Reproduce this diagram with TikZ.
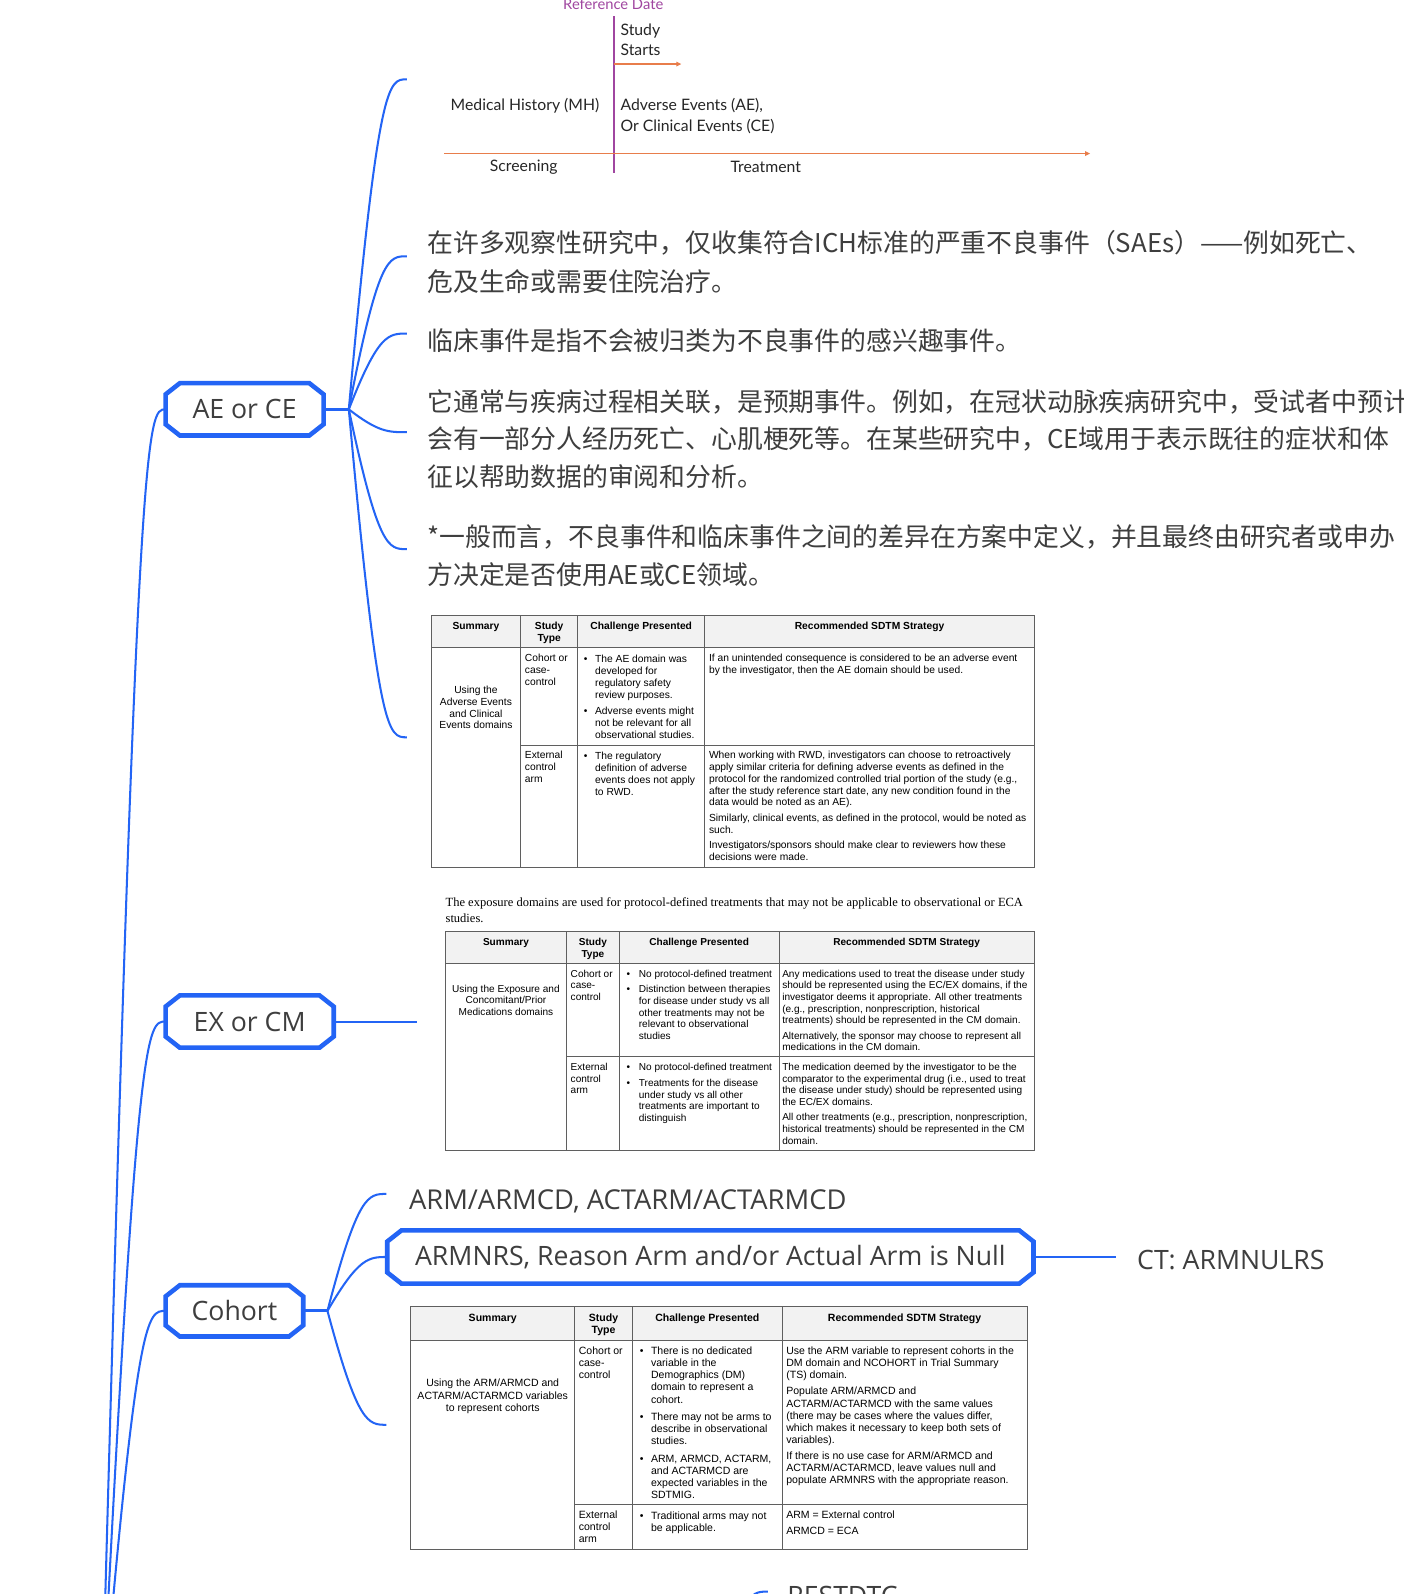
\documentclass[tikz,border=0pt]{standalone}
\usepackage{fontspec}
\setmainfont{Liberation Sans}
\newfontfamily\mmf{Open Sans}
\newfontfamily\cjk{Noto Sans CJK SC}
\newfontfamily\tlf{Lato}
\newfontfamily\tsf{Liberation Serif}
\usetikzlibrary{calc,arrows.meta}
\definecolor{mmblue}{RGB}{35,100,245}
\definecolor{txt}{RGB}{62,62,62}
\definecolor{refpurple}{RGB}{160,70,160}
\definecolor{tlorange}{RGB}{232,125,75}
\definecolor{tabline}{RGB}{95,95,95}
\definecolor{hdrfill}{RGB}{242,242,242}
\newlength\bulw
\setlength\bulw{11pt}
\newcommand\bu{\makebox[\bulw][l]{\textbullet}}
\newcommand\bi{\hspace*{\bulw}}
\newcommand\fl{\rule{0pt}{8pt}}
\newcommand\tfa{\fontsize{10.1}{11.7}\selectfont}
\newcommand\tfb{\fontsize{9.9}{11.5}\selectfont}
\newcommand\tfc{\fontsize{10.35}{12}\selectfont}
\newcommand\octbox[1]{%
 \draw[octo] ($(#1.north west)+(14,0)$) -- ($(#1.north east)+(-14,0)$) -- ($(#1.north east)+(0,11)$) -- ($(#1.south east)+(0,-11)$) -- ($(#1.south east)+(-14,0)$) -- ($(#1.south west)+(14,0)$) -- ($(#1.south west)+(0,-11)$) -- ($(#1.north west)+(0,11)$) -- cycle;}
\newcommand\brch[2]{\draw[br] (#1) .. controls ($(#2)+(-28,0)$) and ($(#2)+(-18,0)$) .. (#2);}
\tikzset{
 br/.style={draw=mmblue, line width=2pt},
 octo/.style={draw=mmblue, line width=4.5pt},
 mmn/.style={inner sep=0pt, font=\mmf\fontsize{26.2}{30}\selectfont, text=txt},
 mmt/.style={mmn, anchor=west},
 cn/.style={inner sep=0pt, anchor=west, font=\cjk\fontsize{25.4}{37}\selectfont, text=txt},
 tt/.style={inner sep=0pt, anchor=west, align=left, font=\tlf\fontsize{15.5}{20}\selectfont, text=black!85},
 tab/.style={draw=tabline, line width=1pt},
 c1/.style={inner sep=0pt, anchor=north west, align=left, font=\tfa},
 c1c/.style={inner sep=0pt, anchor=north, align=center, font=\tfa},
 h1/.style={inner sep=0pt, anchor=north, align=center, font=\tfa\bfseries},
 c2/.style={inner sep=0pt, anchor=north west, align=left, font=\tfb},
 c2c/.style={inner sep=0pt, anchor=north, align=center, font=\tfb},
 h2/.style={inner sep=0pt, anchor=north, align=center, font=\tfb\bfseries},
 c3/.style={inner sep=0pt, anchor=north west, align=left, font=\tfc},
 c3c/.style={inner sep=0pt, anchor=north, align=center, font=\tfc},
 h3/.style={inner sep=0pt, anchor=north, align=center, font=\tfc\bfseries},
 oarr/.style={draw=tlorange, line width=1.3pt, -{Triangle[length=5pt,width=4.5pt]}},
}
\begin{document}
\begin{tikzpicture}[x=1pt,y=-1pt]
\useasboundingbox (0,0) rectangle (1380.5,1567.4);
\fill[white] (0,0) rectangle (1380.5,1567.4);
\clip (0,0) rectangle (1380.5,1567.4);

% ---------------- timeline
\node[inner sep=0pt, font=\tlf\fontsize{14.5}{18}\selectfont, text=refpurple] (refd) at (603,4) {Reference Date};
\coordinate (vt) at (604,16); \coordinate (vb) at (604,170);
\draw[refpurple, line width=1.5pt] (vt) -- (vb);
\node[tt] (ss) at (610,39) {Study\\Starts};
\coordinate (sa1) at (604,63); \coordinate (sa2) at (670,63);
\draw[oarr] (sa1) -- (sa2);
\node[tt] (mh) at (443,104) {Medical History (MH)};
\node[tt] (aece) at (610,114) {Adverse Events (AE),\\Or Clinical Events (CE)};
\coordinate (ax1) at (437,151); \coordinate (ax2) at (1072,151);
\draw[oarr] (ax1) -- (ax2);
\node[tt, anchor=center] (scr) at (515,164) {Screening};
\node[tt, anchor=center] (trt) at (753,164) {Treatment};

% ---------------- chinese texts
\node[cn] (c1a) at (420,239) {在许多观察性研究中，仅收集符合ICH标准的严重不良事件（SAEs）——例如死亡、};
\node[cn] (c1b) at (420,277) {危及生命或需要住院治疗。};
\node[cn] (c2a) at (420,335) {临床事件是指不会被归类为不良事件的感兴趣事件。};
\node[cn] (c3a) at (420,395) {它通常与疾病过程相关联，是预期事件。例如，在冠状动脉疾病研究中，受试者中预计};
\node[cn] (c3b) at (420,432) {会有一部分人经历死亡、心肌梗死等。在某些研究中，CE域用于表示既往的症状和体};
\node[cn] (c3c) at (420,469) {征以帮助数据的审阅和分析。};
\node[cn] (c4a) at (420,528) {*一般而言，不良事件和临床事件之间的差异在方案中定义，并且最终由研究者或申办};
\node[cn] (c4b) at (420,565) {方决定是否使用AE或CE领域。};

% ---------------- table 1
\fill[hdrfill] (424,605) rectangle (1017,637);
\draw[tab] (424,605) rectangle (1017,853);
\draw[tab] (424,637) -- (1017,637);
\draw[tab] (512,733) -- (1017,733);
\draw[tab] (512,605) -- (512,853);
\draw[tab] (568,605) -- (568,853);
\draw[tab] (693,605) -- (693,853);
\node[h1] (t1h1) at (468,610.5) {\fl Summary};
\node[h1] (t1h2) at (540,610.5) {\fl Study\\Type};
\node[h1] (t1h3) at (630.5,610.5) {\fl Challenge Presented};
\node[h1] (t1h4) at (855,610.5) {\fl Recommended SDTM Strategy};
\node[c1c] (t1s) at (468,673.5) {\fl Using the\\Adverse Events\\and Clinical\\Events domains};
\node[c1] (t1a) at (516,642.5) {\fl Cohort or\\case-\\control};
\node[c1] (t1b) at (574,643.5) {\fl\bu The AE domain was\\\bi developed for\\\bi regulatory safety\\\bi review purposes.\\[3.8pt]\bu Adverse events might\\\bi not be relevant for all\\\bi observational studies.};
\node[c1] (t1c) at (697,642.5) {\fl If an unintended consequence is considered to be an adverse event\\by the investigator, then the AE domain should be used.};
\node[c1] (t1d) at (516,737.5) {\fl External\\control\\arm};
\node[c1] (t1e) at (574,738.5) {\fl\bu The regulatory\\\bi definition of adverse\\\bi events does not apply\\\bi to RWD.};
\node[c1] (t1f) at (697,737.5) {\fl When working with RWD, investigators can choose to retroactively\\apply similar criteria for defining adverse events as defined in the\\protocol for the randomized controlled trial portion of the study (e.g.,\\after the study reference start date, any new condition found in the\\data would be noted as an AE).\\[3.3pt]Similarly, clinical events, as defined in the protocol, would be noted as\\such.\\[3.3pt]Investigators/sponsors should make clear to reviewers how these\\decisions were made.};

% ---------------- table 2
\node[inner sep=0pt, anchor=north west, align=left, font=\tsf\fontsize{12.3}{15}\selectfont] (t2t) at (438,882) {\rule{0pt}{9.5pt}The exposure domains are used for protocol-defined treatments that may not be applicable to observational or ECA\\studies.};
\fill[hdrfill] (438,916) rectangle (1017,947);
\draw[tab] (438,916) rectangle (1017,1131);
\draw[tab] (438,947) -- (1017,947);
\draw[tab] (557,1039) -- (1017,1039);
\draw[tab] (557,916) -- (557,1131);
\draw[tab] (609,916) -- (609,1131);
\draw[tab] (766,916) -- (766,1131);
\node[h2] (t2h1) at (497.5,921.5) {\fl Summary};
\node[h2] (t2h2) at (583,921.5) {\fl Study\\Type};
\node[h2] (t2h3) at (687.5,921.5) {\fl Challenge Presented};
\node[h2] (t2h4) at (891.5,921.5) {\fl Recommended SDTM Strategy};
\node[c2c] (t2s) at (497.5,967.5) {\fl Using the Exposure and\\Concomitant/Prior\\Medications domains};
\node[c2] (t2a) at (561,952.5) {\fl Cohort or\\case-\\control};
\setlength\bulw{12pt}
\node[c2] (t2b) at (616,952.5) {\fl\bu No protocol-defined treatment\\[4pt]\bu Distinction between therapies\\\bi for disease under study vs all\\\bi other treatments may not be\\\bi relevant to observational\\\bi studies};
\node[c2] (t2c) at (769,952.5) {\fl Any medications used to treat the disease under study\\should be represented using the EC/EX domains, if the\\investigator deems it appropriate. All other treatments\\(e.g., prescription, nonprescription, historical\\treatments) should be represented in the CM domain.\\[3.5pt]Alternatively, the sponsor may choose to represent all\\medications in the CM domain.};
\node[c2] (t2d) at (561,1044.5) {\fl External\\control\\arm};
\node[c2] (t2e) at (616,1044.5) {\fl\bu No protocol-defined treatment\\[4pt]\bu Treatments for the disease\\\bi under study vs all other\\\bi treatments are important to\\\bi distinguish};
\node[c2] (t2f) at (769,1044.5) {\fl The medication deemed by the investigator to be the\\comparator to the experimental drug (i.e., used to treat\\the disease under study) should be represented using\\the EC/EX domains.\\[3.5pt]All other treatments (e.g., prescription, nonprescription,\\historical treatments) should be represented in the CM\\domain.};

% ---------------- table 3
\setlength\bulw{11pt}
\fill[hdrfill] (404,1285) rectangle (1010,1318);
\draw[tab] (404,1285) rectangle (1010,1524);
\draw[tab] (404,1318) -- (1010,1318);
\draw[tab] (565,1479) -- (1010,1479);
\draw[tab] (565,1285) -- (565,1524);
\draw[tab] (622,1285) -- (622,1524);
\draw[tab] (769,1285) -- (769,1524);
\node[h3] (t3h1) at (484.5,1291.5) {\fl Summary};
\node[h3] (t3h2) at (593.5,1291.5) {\fl Study\\Type};
\node[h3] (t3h3) at (695.5,1291.5) {\fl Challenge Presented};
\node[h3] (t3h4) at (889.5,1291.5) {\fl Recommended SDTM Strategy};
\node[c3c] (t3s) at (484.5,1355.5) {\fl Using the ARM/ARMCD and\\ACTARM/ACTARMCD variables\\to represent cohorts};
\node[c3] (t3a) at (569,1323.5) {\fl Cohort or\\case-\\control};
\node[c3] (t3b) at (629,1323.5) {\fl\bu There is no dedicated\\\bi variable in the\\\bi Demographics (DM)\\\bi domain to represent a\\\bi cohort.\\[5pt]\bu There may not be arms to\\\bi describe in observational\\\bi studies.\\[5pt]\bu ARM, ARMCD, ACTARM,\\\bi and ACTARMCD are\\\bi expected variables in the\\\bi SDTMIG.};
\node[c3] (t3c) at (773,1323.5) {\fl Use the ARM variable to represent cohorts in the\\DM domain and NCOHORT in Trial Summary\\(TS) domain.\\[4pt]Populate ARM/ARMCD and\\ACTARM/ACTARMCD with the same values\\(there may be cases where the values differ,\\which makes it necessary to keep both sets of\\variables).\\[3.5pt]If there is no use case for ARM/ARMCD and\\ACTARM/ACTARMCD, leave values null and\\populate ARMNRS with the appropriate reason.};
\node[c3] (t3d) at (569,1484.5) {\fl External\\control\\arm};
\node[c3] (t3e) at (629,1485.5) {\fl\bu Traditional arms may not\\\bi be applicable.};
\node[c3] (t3f) at (773,1484.5) {\fl ARM = External control\\[4pt]ARMCD = ECA};

% ---------------- mind map nodes
\node[mmn, minimum width=155, minimum height=51] (ae) at (240.5,402.5) {AE or CE};
\octbox{ae}
\node[mmn, minimum width=165, minimum height=51] (ex) at (245.5,1004.5) {EX or CM};
\octbox{ex}
\node[mmn, minimum width=135, minimum height=50] (co) at (230.5,1289) {Cohort};
\octbox{co}
\node[mmn, minimum width=635, minimum height=52] (ar) at (698.5,1236) {ARMNRS, Reason Arm and/or Actual Arm is Null};
\octbox{ar}
\node[mmt, font=\mmf\fontsize{26.9}{30}\selectfont] (arm) at (402,1181) {ARM/ARMCD, ACTARM/ACTARMCD};
\node[mmt] (ct) at (1118,1239) {CT: ARMNULRS};
\node[mmn, anchor=base west] (rs) at (774,1579) {RESTDTC};

% ---------------- connectors
\coordinate (root) at (100,1700);
\brch{root}{ae.west}
\brch{root}{ex.west}
\brch{root}{co.west}

\coordinate (aej) at (343,402.5);
\draw[br, line width=3pt] (ae.east) -- (aej);
\coordinate (e1) at (400,78);
\coordinate (e2) at (400,252);
\coordinate (e3) at (400,328);
\coordinate (e4) at (400,425);
\coordinate (e5) at (400,540);
\coordinate (e6) at (400,725);
\brch{aej}{e1}
\brch{aej}{e2}
\brch{aej}{e3}
\brch{aej}{e4}
\brch{aej}{e5}
\brch{aej}{e6}

\coordinate (exe) at (410,1004.5);
\draw[br] (ex.east) -- (exe);

\coordinate (coj) at (322,1289);
\draw[br, line width=3pt] (co.east) -- (coj);
\coordinate (f1) at (380,1174);
\coordinate (f3) at (380,1401);
\brch{coj}{f1}
\brch{coj}{ar.west}
\brch{coj}{f3}

\coordinate (cte) at (1097,1236);
\draw[br] (ar.east) -- (cte);

\coordinate (rsj) at (700,1700);
\coordinate (rse) at (755,1565);
\brch{rsj}{rse}
\end{tikzpicture}
\end{document}
